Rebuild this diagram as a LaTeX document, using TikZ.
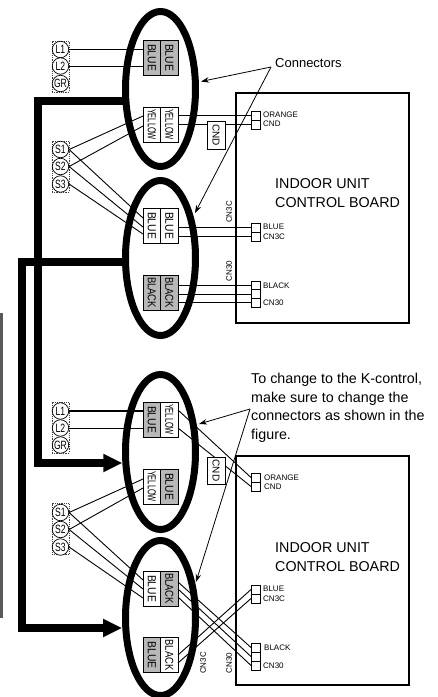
\documentclass[tikz,border=0pt]{standalone}
\usepackage{fontspec}
\usepackage{graphicx}
\setmainfont{Liberation Sans}
\usetikzlibrary{shapes.geometric,arrows.meta,calc}
\newcommand{\blocktext}[2]{\resizebox{#2pt}{8pt}{\fontsize{10}{10}\selectfont #1}}
\newcommand{\termtext}[1]{\scalebox{0.72}[1]{\fontsize{12}{12}\selectfont #1}}
\tikzset{
  loop/.style={draw=black,ellipse,line width=7pt,minimum width=70pt,minimum height=155pt,inner sep=0pt,outer sep=0pt},
  cellv/.style={draw=black,line width=0.8pt,minimum width=17.5pt,minimum height=35pt,inner sep=0pt,outer sep=0pt,shape=rectangle},
  graycell/.style={cellv,fill=black!28},
  whitecell/.style={cellv,fill=white},
  celltext/.style={rotate=-90,inner sep=0pt},
  strip/.style={draw=black!75,line width=0.8pt,densely dotted,fill=white,minimum width=17pt,minimum height=51pt,inner sep=0pt},
  term/.style={draw=black,circle,line width=0.7pt,fill=white,minimum size=16.5pt,inner sep=0pt},
  pin/.style={draw=black,line width=0.8pt,minimum size=9pt,inner sep=0pt,outer sep=0pt,fill=white},
  wire/.style={draw=black,line width=0.9pt},
  bus/.style={draw=black,line width=8pt},
  busarrow/.style={draw=black,line width=8pt,-{Triangle[length=19pt,width=17pt]},shorten >=3.5pt},
  pointer/.style={draw=black,line width=0.8pt,-{Stealth[length=8pt,width=5.5pt]}},
  board/.style={draw=black,line width=1.2pt,minimum width=173pt,inner sep=0pt,outer sep=0pt},
  smalltext/.style={anchor=west,inner sep=0pt,font=\fontsize{8}{8}\selectfont},
  sidetext/.style={rotate=90,inner sep=0pt,font=\fontsize{8}{8}\selectfont},
  boardtext/.style={anchor=west,inner sep=0pt,font=\fontsize{14.3}{19}\selectfont},
  notetext/.style={anchor=north west,inner sep=0pt,align=left,font=\fontsize{14.3}{18.7}\selectfont},
  cndbox/.style={draw=black,line width=0.9pt,fill=white,minimum width=18pt,inner sep=0pt,outer sep=0pt}
}
\begin{document}
\begin{tikzpicture}[x=1pt,y=-1pt]
\clip (0,0) rectangle (437,697);
\fill[black!65] (0,313) rectangle (3,618);

% boards
\node[board,minimum height=230pt] (board1) at (322.5,208) {};
\node[board,minimum height=229pt] (board2) at (322.5,570.5) {};
\node[boardtext] (b1t1) at (275,184) {INDOOR UNIT};
\node[boardtext] (b1t2) at (275,203) {CONTROL BOARD};
\node[boardtext] (b2t1) at (275,548) {INDOOR UNIT};
\node[boardtext] (b2t2) at (275,567) {CONTROL BOARD};

% loops
\node[loop] (e1) at (160.5,89) {};
\node[loop] (e2) at (160.5,258) {};
\node[loop] (e3) at (160.5,452) {};
\node[loop] (e4) at (160.5,618) {};

% connector blocks
\node[graycell]  (b1l) at (151.75,57.5) {};
\node[graycell]  (b1r) at (169.25,57.5) {};
\node[whitecell] (b2l) at (151.75,124.5) {};
\node[whitecell] (b2r) at (169.25,124.5) {};
\node[whitecell] (b3l) at (151.75,225.5) {};
\node[whitecell] (b3r) at (169.25,225.5) {};
\node[graycell]  (b4l) at (151.75,292.5) {};
\node[graycell]  (b4r) at (169.25,292.5) {};
\node[graycell]  (b5l) at (151.75,419.5) {};
\node[whitecell] (b5r) at (169.25,419.5) {};
\node[whitecell] (b6l) at (151.75,486.5) {};
\node[graycell]  (b6r) at (169.25,486.5) {};
\node[whitecell] (b7l) at (151.75,588.5) {};
\node[graycell]  (b7r) at (169.25,588.5) {};
\node[graycell]  (b8l) at (151.75,655) {};
\node[whitecell] (b8r) at (169.25,655) {};

\node[celltext] at (b1l) {\blocktext{BLUE}{27}};
\node[celltext] at (b1r) {\blocktext{BLUE}{27}};
\node[celltext] at (b2l) {\blocktext{YELLOW}{31}};
\node[celltext] at (b2r) {\blocktext{YELLOW}{31}};
\node[celltext] at (b3l) {\blocktext{BLUE}{27}};
\node[celltext] at (b3r) {\blocktext{BLUE}{27}};
\node[celltext] at (b4l) {\blocktext{BLACK}{31}};
\node[celltext] at (b4r) {\blocktext{BLACK}{31}};
\node[celltext] at (b5l) {\blocktext{BLUE}{27}};
\node[celltext] at (b5r) {\blocktext{YELLOW}{31}};
\node[celltext] at (b6l) {\blocktext{YELLOW}{31}};
\node[celltext] at (b6r) {\blocktext{BLUE}{27}};
\node[celltext] at (b7l) {\blocktext{BLUE}{27}};
\node[celltext] at (b7r) {\blocktext{BLACK}{31}};
\node[celltext] at (b8l) {\blocktext{BLUE}{27}};
\node[celltext] at (b8r) {\blocktext{BLACK}{31}};

% terminal strips
\node[strip] (st1) at (60.5,66.5) {};
\node[term] (l1a) at (60.5,49.5) {\termtext{L1}};
\node[term] (l2a) at (60.5,66) {\termtext{L2}};
\node[term] (gra) at (60.5,83.5) {\termtext{GR}};
\node[strip] (st2) at (60.5,166.5) {};
\node[term] (s1a) at (60.5,149.5) {\termtext{S1}};
\node[term] (s2a) at (60.5,166.5) {\termtext{S2}};
\node[term] (s3a) at (60.5,184) {\termtext{S3}};
\node[strip] (st3) at (60.5,427.5) {};
\node[term] (l1b) at (60.5,411) {\termtext{L1}};
\node[term] (l2b) at (60.5,428) {\termtext{L2}};
\node[term] (grb) at (60.5,445) {\termtext{GR}};
\node[strip] (st4) at (60.5,529) {};
\node[term] (s1b) at (60.5,512.5) {\termtext{S1}};
\node[term] (s2b) at (60.5,529.5) {\termtext{S2}};
\node[term] (s3b) at (60.5,547) {\termtext{S3}};

% board pins
\node[pin] (p1a) at (255.5,115.5) {};
\node[pin] (p1b) at (255.5,124.5) {};
\node[pin] (p2a) at (255.5,227.5) {};
\node[pin] (p2b) at (255.5,236.5) {};
\node[pin] (p3a) at (255.5,285.5) {};
\node[pin] (p3b) at (255.5,294.25) {};
\node[pin] (p3c) at (255.5,302.75) {};
\node[pin] (p4a) at (255.5,477.5) {};
\node[pin] (p4b) at (255.5,486.5) {};
\node[pin] (p5a) at (255.5,589.5) {};
\node[pin] (p5b) at (255.5,598.5) {};
\node[pin] (p6a) at (255.5,647.5) {};
\node[pin] (p6b) at (255.5,656.5) {};
\node[pin] (p6c) at (255.5,665.5) {};

\node[smalltext] (t1) at (263,115) {ORANGE};
\node[smalltext] (t2) at (263,124) {CND};
\node[smalltext] (t3) at (263,227) {BLUE};
\node[smalltext] (t4) at (263,237) {CN3C};
\node[smalltext] (t5) at (263,286) {BLACK};
\node[smalltext] (t6) at (263,303) {CN30};
\node[smalltext] (t7) at (264,478) {ORANGE};
\node[smalltext] (t8) at (264,487) {CND};
\node[smalltext] (t9) at (263,589) {BLUE};
\node[smalltext] (t10) at (263,599) {CN3C};
\node[smalltext] (t11) at (264,648) {BLACK};
\node[smalltext] (t12) at (263,666) {CN30};
\node[sidetext] (t13) at (229,212) {CN3C};
\node[sidetext] (t14) at (229,271) {CN30};
\node[sidetext] (t15) at (203,663) {CN3C};
\node[sidetext] (t16) at (229,663) {CN30};

% wires: L lines
\draw[wire] (l1a.east) -- (b1l.west |- l1a.east);
\draw[wire] (l2a.east) -- (b1l.west |- l2a.east);
\draw[wire,line width=1.3pt] (l1b.east) -- (b5l.west |- l1b.east);
\draw[wire] (l2b.east) -- (b5l.west |- l2b.east);

% wires: S lines, upper
\draw[wire] (s1a.east) -- ($(b2l.north west)+(0,9)$);
\draw[wire] (s2a.east) -- ($(b2l.north west)+(0,19)$);
\draw[wire] (s1a.east) -- ($(b3l.north west)+(0,10)$);
\draw[wire] (s2a.east) -- ($(b3l.north west)+(0,19)$);
\draw[wire] (s3a.east) -- ($(b3l.north west)+(0,26)$);
% wires: S lines, lower
\draw[wire] (s1b.east) -- ($(b6l.north west)+(0,10)$);
\draw[wire] (s2b.east) -- ($(b6l.north west)+(0,19)$);
\draw[wire] (s1b.east) -- ($(b7l.north west)+(0,9)$);
\draw[wire] (s2b.east) -- ($(b7l.north west)+(0,18)$);
\draw[wire] (s3b.east) -- ($(b7l.north west)+(0,27)$);

% wires to upper board
\draw[wire] ($(b2r.north east)+(0,8.5)$) -- (p1a.west);
\draw[wire] ($(b2r.north east)+(0,17.5)$) -- (p1b.west);
\draw[wire] (b3r.east |- p2a.west) -- (p2a.west);
\draw[wire] (b3r.east |- p2b.west) -- (p2b.west);
\draw[wire] (b4r.east |- p3a.west) -- (p3a.west);
\draw[wire] (b4r.east |- p3b.west) -- (p3b.west);
\draw[wire] (b4r.east |- p3c.west) -- (p3c.west);

% wires to lower board
\draw[wire] ($(b5r.north east)+(0,8)$) -- (p4a.west);
\draw[wire] ($(b5r.north east)+(0,26)$) -- (p4b.west);
\draw[wire] ($(b7r.north east)+(0,11)$) -- (p6a.west);
\draw[wire] ($(b7r.north east)+(0,18)$) -- (p6b.west);
\draw[wire] ($(b7r.north east)+(0,26)$) -- (p6c.west);
\draw[wire] ($(b8r.north east)+(0,17.5)$) -- (p5a.west);
\draw[wire] ($(b8r.north east)+(0,25.5)$) -- (p5b.west);

% CND plugs
\node[cndbox,minimum height=28pt] (cnd1) at (216,135) {};
\node[celltext,font=\fontsize{10}{10}\selectfont] at (cnd1) {CND};
\node[cndbox,minimum height=27pt] (cnd2) at (216,470.5) {};
\node[celltext,font=\fontsize{10}{10}\selectfont] at (cnd2) {CND};

% thick buses
\coordinate (c1) at (38,463);
\coordinate (c2) at (22,628);
\draw[bus] (e1.199) -| (c1) -- +(0,4);
\draw[busarrow] (34,463) -- (e3.198 |- c1);
\draw[bus] (e2.187) -| (c2) -- +(0,4);
\draw[busarrow] (18,628) -- (e4.187 |- c2);

% labels and pointers
\node[anchor=west,inner sep=0pt,font=\fontsize{13}{13}\selectfont] (conn) at (275,63) {Connectors};
\coordinate (a1) at (271,67);
\coordinate (a2) at (250,409);
\coordinate (q1) at (201,81.5);
\coordinate (q2) at (195,213);
\coordinate (q3) at (199,424);
\coordinate (q4) at (196,582);
\draw[pointer] (a1) -- (q1);
\draw[pointer] (a1) -- (q2);
\draw[pointer] (a2) -- (q3);
\draw[pointer] (a2) -- (q4);
\node[notetext] (note) at (251,373) {To change to the K-control,\\make sure to change the\\connectors as shown in the\\figure.};
\end{tikzpicture}
\end{document}
